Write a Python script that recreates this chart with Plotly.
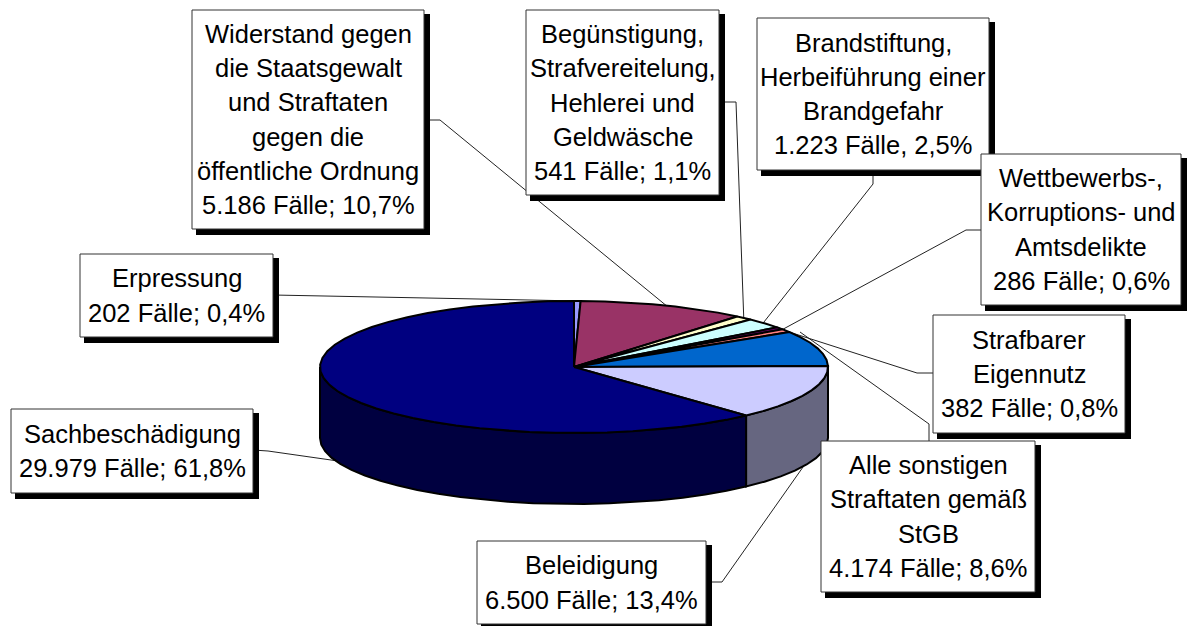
import numpy as np
import plotly.graph_objects as go

# --- data -------------------------------------------------------------
categories = ["Erpressung", "Widerstand", "Begünstigung", "Brandstiftung", "Wettbewerb",
              "Eigennutz", "Sonstige", "Beleidigung", "Sachbeschädigung"]
values = [202, 5186, 541, 1223, 286, 382, 4174, 6500, 29979]
label_lines = [
    ["Erpressung", "202 Fälle; 0,4%"],
    ["Widerstand gegen", "die Staatsgewalt", "und Straftaten", "gegen die",
     "öffentliche Ordnung", "5.186 Fälle; 10,7%"],
    ["Begünstigung,", "Strafvereitelung,", "Hehlerei und", "Geldwäsche", "541 Fälle; 1,1%"],
    ["Brandstiftung,", "Herbeiführung einer", "Brandgefahr", "1.223 Fälle, 2,5%"],
    ["Wettbewerbs-,", "Korruptions- und", "Amtsdelikte", "286 Fälle; 0,6%"],
    ["Strafbarer", "Eigennutz", "382 Fälle; 0,8%"],
    ["Alle sonstigen", "Straftaten gemäß", "StGB", "4.174 Fälle; 8,6%"],
    ["Beleidigung", "6.500 Fälle; 13,4%"],
    ["Sachbeschädigung", "29.979 Fälle; 61,8%"],
]

# --- styles and layout ------------------------------------------------
top_colors = ["#9999FF", "#993366", "#FFFFCC", "#CCFFFF", "#660066",
              "#FF8080", "#0066CC", "#CCCCFF", "#000080"]
side_colors = ["#4C4C80", "#4C1933", "#808066", "#668080", "#330033",
               "#804040", "#003366", "#666680", "#000040"]
boxes = [
    (80, 254, 273, 337), (192, 10, 424, 229), (526, 10, 719, 195),
    (757, 18, 989, 170), (981, 154, 1181, 305), (933, 315, 1125, 433),
    (821, 441, 1035, 592), (477, 541, 706, 624), (11, 409, 253, 493),
]
leaders = [
    [(273, 295), (580, 301)],
    [(424, 120), (440, 120), (668, 307)],
    [(719, 102), (736, 102), (744, 325)],
    [(873, 170), (873, 184), (760, 327)],
    [(981, 230), (966, 230), (776, 333)],
    [(933, 373), (917, 373), (786, 331)],
    [(929, 441), (929, 424), (800, 332)],
    [(706, 582), (722, 582), (815, 450)],
    [(253, 450), (268, 451), (345, 462)],
]
CX, CY, RX, RY, DEPTH = 574, 367, 254, 66, 71
STEP_DEG = 6
LINE_GAP = 34.3
FONT = "Liberation Sans, Arial, sans-serif"

fractions = np.array(values, dtype=float) / np.sum(values)
edges = np.concatenate([[0.0], np.cumsum(fractions)]) * 360.0


def arc(a0, a1):
    n = max(2, int(np.ceil((a1 - a0) / STEP_DEG)) + 1)
    t = np.radians(np.linspace(a0, a1, n))
    return CX + RX * np.sin(t), CY - RY * np.cos(t)


fig = go.Figure()

# sides: only the front half (90..270 degrees) of the cylinder is visible
for i in range(len(values)):
    a0, a1 = max(edges[i], 90.0), min(edges[i + 1], 270.0)
    if a1 <= a0:
        continue
    x, y = arc(a0, a1)
    fig.add_trace(go.Scatter(
        x=np.concatenate([x, x[::-1], x[:1]]),
        y=np.concatenate([y, y[::-1] + DEPTH, y[:1]]),
        mode="lines", fill="toself", fillcolor=side_colors[i],
        line=dict(color="black", width=2), hoverinfo="skip", showlegend=False,
    ))

# top surface
for i in range(len(values)):
    x, y = arc(edges[i], edges[i + 1])
    fig.add_trace(go.Scatter(
        x=np.concatenate([[CX], x, [CX]]),
        y=np.concatenate([[CY], y, [CY]]),
        mode="lines", fill="toself", fillcolor=top_colors[i],
        line=dict(color="black", width=2), name=categories[i],
        hoverinfo="name", showlegend=False,
    ))

shapes = []
for pts in leaders:
    path = "M " + " L ".join(f"{px} {py}" for px, py in pts)
    shapes.append(dict(type="path", path=path, xref="x", yref="y", layer="below",
                       line=dict(color="#222222", width=1)))
for (x0, y0, x1, y1) in boxes:
    shapes.append(dict(type="rect", xref="x", yref="y", layer="above",
                       x0=x0 + 4, y0=y0 + 4, x1=x1 + 6, y1=y1 + 6,
                       fillcolor="black", line=dict(width=0)))
    shapes.append(dict(type="rect", xref="x", yref="y", layer="above",
                       x0=x0, y0=y0, x1=x1, y1=y1,
                       fillcolor="white", line=dict(color="#333333", width=1)))

annotations = []
for b, lines in zip(boxes, label_lines):
    mid_y = (b[1] + b[3]) / 2
    for k, line in enumerate(lines):
        annotations.append(dict(
            x=(b[0] + b[2]) / 2, y=mid_y + (k - (len(lines) - 1) / 2) * LINE_GAP,
            xref="x", yref="y", text=line, showarrow=False,
            xanchor="center", yanchor="middle", align="center",
            font=dict(family=FONT, size=25.5, color="black")))

fig.update_layout(
    width=1188, height=626, autosize=False,
    margin=dict(l=0, r=0, t=0, b=0),
    paper_bgcolor="white", plot_bgcolor="white",
    xaxis=dict(range=[0, 1188], visible=False, fixedrange=True),
    yaxis=dict(range=[626, 0], visible=False, fixedrange=True),
    shapes=shapes, annotations=annotations, showlegend=False,
)
fig.write_html("out.html", config=dict(displayModeBar=False),
               post_script="document.body.style.margin='0';document.body.style.overflow='hidden';")
